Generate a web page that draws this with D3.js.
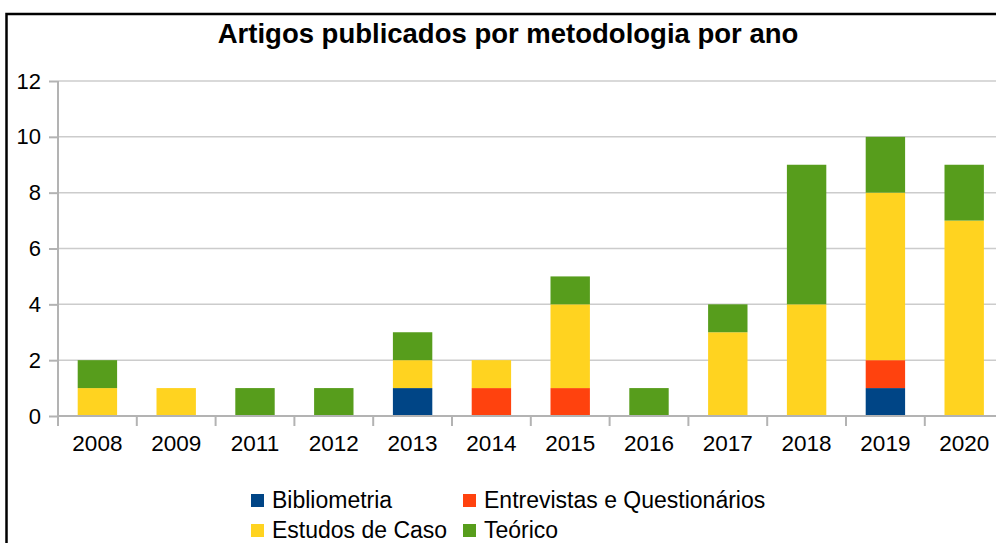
<!DOCTYPE html>
<html>
<head>
<meta charset="utf-8">
<script src="https://cdn.jsdelivr.net/npm/d3@7"></script>
<style>
  body { margin: 0; background: #fff; }
  text { font-family: "Liberation Sans", Arial, sans-serif; }
</style>
</head>
<body>
<div id="chart"></div>
<script>
// data
const years = ["2008", "2009", "2011", "2012", "2013", "2014", "2015", "2016", "2017", "2018", "2019", "2020"];
const series = ["Bibliometria", "Entrevistas e Questionários", "Estudos de Caso", "Teórico"];
const bibliometria = [0, 0, 0, 0, 1, 0, 0, 0, 0, 0, 1, 0];
const entrevistas  = [0, 0, 0, 0, 0, 1, 1, 0, 0, 0, 1, 0];
const estudos      = [1, 1, 0, 0, 1, 1, 3, 0, 3, 4, 6, 7];
const teorico      = [1, 0, 1, 1, 1, 0, 1, 1, 1, 5, 2, 2];
const yTicks = [0, 2, 4, 6, 8, 10, 12];
const colors = ["#004586", "#ff420e", "#ffd320", "#579d1c"];

const width = 996, height = 543;
const margin = {top: 81, left: 58, bottom: 127};
const plotW = 12 * 78.8;

const svg = d3.select("#chart").append("svg")
    .attr("width", width)
    .attr("height", height);

// frame
svg.append("rect")
    .attr("x", 6.5).attr("y", 14)
    .attr("width", 1000).attr("height", 600)
    .attr("fill", "none")
    .attr("stroke", "#000")
    .attr("stroke-width", 2.5);

// title
svg.append("text")
    .attr("x", 508).attr("y", 43)
    .attr("text-anchor", "middle")
    .attr("font-size", "27.5px")
    .attr("font-weight", "bold")
    .attr("fill", "#000")
    .text("Artigos publicados por metodologia por ano");

// scales
const xOuter = d3.scaleBand().domain(years).range([margin.left, margin.left + plotW]).padding(0);
const x = d3.scaleBand().domain(years).range([margin.left, margin.left + plotW])
    .paddingInner(0.5).paddingOuter(0.25);
const y = d3.scaleLinear().domain([0, 12]).range([height - margin.bottom, margin.top]);

// gridlines
svg.append("g")
    .selectAll("line")
    .data(yTicks)
    .join("line")
    .attr("x1", margin.left).attr("x2", margin.left + plotW)
    .attr("y1", d => y(d)).attr("y2", d => y(d))
    .attr("stroke", "#cccccc")
    .attr("stroke-width", 1.5);

// stacked bars
const table = years.map((yr, i) => ({
    year: yr,
    [series[0]]: bibliometria[i],
    [series[1]]: entrevistas[i],
    [series[2]]: estudos[i],
    [series[3]]: teorico[i]
}));
const stack = d3.stack().keys(series)(table);

svg.append("g")
    .selectAll("g")
    .data(stack)
    .join("g")
    .attr("fill", (d, i) => colors[i])
    .selectAll("rect")
    .data(d => d.filter(s => s[1] > s[0]))
    .join("rect")
    .attr("x", d => x(d.data.year))
    .attr("width", x.bandwidth())
    .attr("y", d => y(d[1]))
    .attr("height", d => y(d[0]) - y(d[1]));

// y axis
const yAxis = d3.axisLeft(y).tickValues(yTicks).tickSize(9).tickPadding(8);
const yg = svg.append("g")
    .attr("transform", `translate(${margin.left},0)`)
    .call(yAxis);
yg.select(".domain").attr("d", `M0,${y(12)}V${y(0) + 10}`);

// x axis: ticks on the category boundaries
const xg = svg.append("g");
xg.append("line")
    .attr("x1", margin.left).attr("x2", margin.left + plotW)
    .attr("y1", y(0)).attr("y2", y(0));
xg.selectAll(".tick-line")
    .data(years.slice(1).concat(["end"]))
    .join("line")
    .attr("class", "tick-line")
    .attr("x1", d => d === "end" ? margin.left + plotW : xOuter(d))
    .attr("x2", d => d === "end" ? margin.left + plotW : xOuter(d))
    .attr("y1", y(0)).attr("y2", y(0) + 10);
xg.selectAll("text")
    .data(years)
    .join("text")
    .attr("x", d => xOuter(d) + xOuter.bandwidth() / 2)
    .attr("y", y(0) + 35)
    .attr("text-anchor", "middle")
    .attr("font-size", "22.5px")
    .attr("fill", "#000")
    .text(d => d);

xg.selectAll("line").attr("stroke", "#b3b3b3").attr("stroke-width", 2);
yg.selectAll("line, path").attr("stroke", "#b3b3b3").attr("stroke-width", 2);
yg.selectAll("text")
    .attr("font-size", "22px")
    .attr("fill", "#000")
    .attr("font-family", "'Liberation Sans', Arial, sans-serif");

// legend
const legendPos = [[251, 508], [463, 508], [251, 538], [463, 538]];
const legend = svg.append("g")
    .selectAll("g")
    .data(series)
    .join("g")
    .attr("transform", (d, i) => `translate(${legendPos[i][0]},${legendPos[i][1]})`);
legend.append("rect")
    .attr("x", 0).attr("y", -14)
    .attr("width", 13).attr("height", 13)
    .attr("fill", (d, i) => colors[i]);
legend.append("text")
    .attr("x", 21).attr("y", 0)
    .attr("font-size", "23px")
    .attr("fill", "#000")
    .text(d => d);
</script>
</body>
</html>
